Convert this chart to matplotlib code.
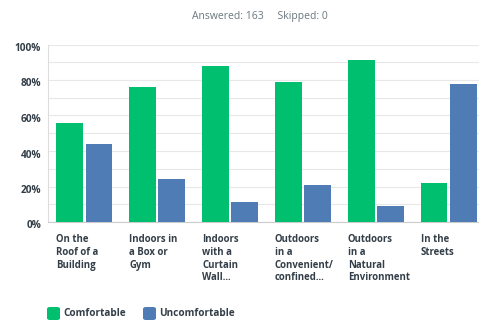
import matplotlib.pyplot as plt
import matplotlib.transforms as mtransforms
from matplotlib.patches import FancyBboxPatch
import numpy as np

# Data
categories = ["On the\nRoof of a\nBuilding", "Indoors in\na Box or\nGym",
              "Indoors\nwith a\nCurtain\nWall...", "Outdoors\nin a\nConvenient/\nconfined...",
              "Outdoors\nin a\nNatural\nEnvironment", "In the\nStreets"]
comfortable = [56, 76, 88, 79, 91, 22]
uncomfortable = [44, 24, 11, 21, 9, 78]
y_ticks = [0, 20, 40, 60, 80, 100]

GREEN = '#00BF6F'
BLUE = '#507CB6'
TEXT = '#333E48'

plt.rcParams['font.family'] = ['Open Sans', 'DejaVu Sans']

W, H = 479, 322
fig = plt.figure(figsize=(W / 100, H / 100), dpi=100)
# axes extends a little past the right edge, as in the cropped original
ax = fig.add_axes([48 / W, (H - 222) / H, 437 / W, 177.5 / H])

x = np.arange(len(categories))
bw = 0.37
ax.bar(x - bw / 2 - 0.015, comfortable, bw, color=GREEN, zorder=3)
ax.bar(x + bw / 2 + 0.015, uncomfortable, bw, color=BLUE, zorder=3)

ax.set_xlim(-0.5, len(categories) - 0.5)
ax.set_ylim(0, 100)

ax.set_yticks(range(0, 101, 10))
ax.set_yticklabels([])
ax.tick_params(length=0)
ax.set_xticks([])
ax.grid(axis='y', color='#E8E8E8', linewidth=0.8, zorder=0)
for s in ['top', 'right']:
    ax.spines[s].set_visible(False)
ax.spines['left'].set_color('#DDDDDD')
ax.spines['bottom'].set_color('#CCCCCC')

# y labels sit a bit below their grid lines
off = mtransforms.ScaledTranslation(0, -4 / 100, fig.dpi_scale_trans)
ytrans = mtransforms.blended_transform_factory(ax.transAxes, ax.transData) + off
for v in y_ticks:
    ax.text(-7 / 437, v, f"{v}%", transform=ytrans,
            ha='right', va='center', fontsize=7.3, fontweight='bold', color=TEXT)

# category labels, left aligned under each group
for i, lab in enumerate(categories):
    ax.text(i - bw - 0.015, -7, lab, ha='left', va='top', fontsize=6.9, fontweight='bold',
            color=TEXT, linespacing=1.2, clip_on=False)

fig.text(260 / W, 1 - 17 / H, "Answered: 163     Skipped: 0", ha='center', va='center',
         fontsize=7.5, color='#6B787F')

# legend
for px, col, lab in [(47, GREEN, "Comfortable"), (143, BLUE, "Uncomfortable")]:
    fig.patches.append(FancyBboxPatch((px / W, 1 - 320 / H), 13 / W, 13 / H,
                                      boxstyle="round,pad=0,rounding_size=0.006",
                                      transform=fig.transFigure, facecolor=col, edgecolor='none'))
    fig.text((px + 16) / W, 1 - 313 / H, lab, ha='left', va='center', fontsize=7.2,
             fontweight='bold', color=TEXT)

fig.savefig('out.png', dpi=100)
